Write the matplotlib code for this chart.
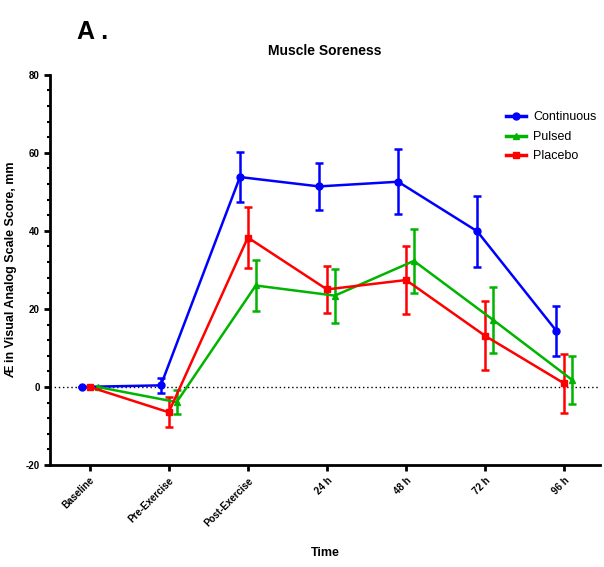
import numpy as np
import matplotlib
matplotlib.use("Agg")
import matplotlib.pyplot as plt
from matplotlib.ticker import MultipleLocator
from matplotlib.lines import Line2D

plt.rcParams['font.family'] = ['Liberation Sans', 'DejaVu Sans']
plt.rcParams['axes.unicode_minus'] = False

time_labels = ['Baseline', 'Pre-Exercise', 'Post-Exercise', '24 h', '48 h', '72 h', '96 h']

continuous_mean = [0.0, 0.4, 53.8, 51.4, 52.6, 39.9, 14.4]
continuous_err = [0.0, 2.0, 6.5, 6.1, 8.4, 9.1, 6.4]

pulsed_mean = [0.0, -3.9, 26.0, 23.4, 32.3, 17.2, 1.8]
pulsed_err = [0.0, 3.1, 6.6, 6.9, 8.2, 8.4, 6.2]

placebo_mean = [0.0, -6.5, 38.3, 25.0, 27.4, 13.1, 0.9]
placebo_err = [0.0, 3.8, 7.7, 6.1, 8.8, 8.8, 7.6]

x = np.arange(len(time_labels))

fig = plt.figure(figsize=(6.04, 5.67), dpi=100)
ax = fig.add_axes([0.083, 0.180, 0.91, 0.688])

ax.axhline(0, color='black', linestyle=(0, (1, 2)), linewidth=1, zorder=1)

series = [
    ('Continuous', continuous_mean, continuous_err, '#0000FF', 'o', -0.1),
    ('Pulsed', pulsed_mean, pulsed_err, '#00B400', '^', 0.1),
    ('Placebo', placebo_mean, placebo_err, '#FF0000', 's', 0.0),
]
handles = []
for name, mean, err, color, marker, shift in series:
    ax.errorbar(x + shift, mean, yerr=err, color=color, marker=marker,
                markersize=5, linewidth=1.8, elinewidth=1.8, capsize=3,
                capthick=1.8, zorder=3)
    handles.append(Line2D([], [], color=color, marker=marker, markersize=5,
                          linewidth=2.5, label=name))

ax.set_xlim(-0.5, 6.45)
ax.set_ylim(-20, 80)
ax.yaxis.set_major_locator(MultipleLocator(20))
ax.yaxis.set_minor_locator(MultipleLocator(4))
ax.set_xticks(x)
ax.set_xticklabels(time_labels, rotation=45, ha='right', rotation_mode='anchor',
                   fontsize=7, fontweight='bold')
for lbl in ax.get_yticklabels():
    lbl.set_fontsize(7)
    lbl.set_fontweight('bold')

for side in ('top', 'right'):
    ax.spines[side].set_visible(False)
for side in ('left', 'bottom'):
    ax.spines[side].set_linewidth(2)
ax.tick_params(axis='both', which='major', width=2, length=4)
ax.tick_params(axis='y', which='minor', width=1.5, length=2)

ax.set_title('Muscle Soreness', fontsize=10, fontweight='bold', pad=14)
ax.set_ylabel('Æ in Visual Analog Scale Score, mm', fontsize=9, fontweight='bold', labelpad=6)
ax.set_xlabel('Time', fontsize=9, fontweight='bold', labelpad=14)

ax.legend(handles=handles, loc='upper right', bbox_to_anchor=(1.015, 0.935), frameon=False,
          fontsize=9, handlelength=1.6, handletextpad=0.6, labelspacing=0.6)

fig.text(0.128, 0.965, 'A .', fontsize=18, fontweight='bold', va='top')

fig.savefig('out.png', dpi=100)
